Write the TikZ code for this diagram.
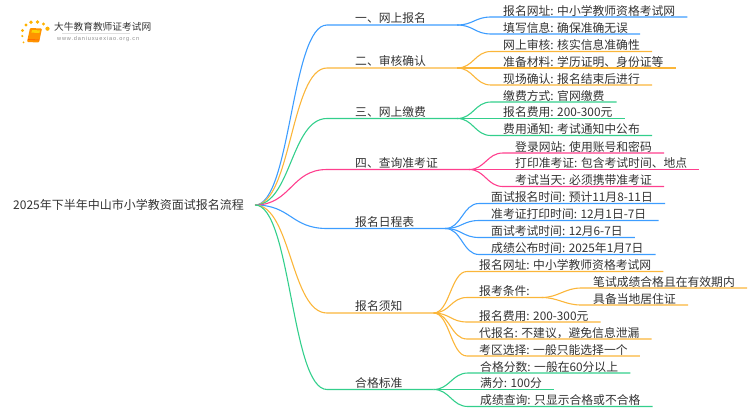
\documentclass[tikz,border=0pt]{standalone}
\usepackage{fontspec}
\setmainfont{Noto Sans CJK SC}
\newfontfamily\logofont[LetterSpace=15]{Liberation Sans}
\definecolor{lineblue}{HTML}{3D9DFF}
\definecolor{lineorange}{HTML}{FBB63A}
\definecolor{linegreen}{HTML}{33CF8C}
\definecolor{linepink}{HTML}{FF3F8E}
\definecolor{inktext}{HTML}{333333}
\tikzset{
  rootlabel/.style={anchor=west, inner xsep=11pt, inner ysep=0pt, text=inktext, font=\fontsize{12}{14}\selectfont},
  branchlabel/.style={anchor=south west, inner xsep=28pt, inner ysep=0pt, text depth=2pt, text=inktext,
    font=\fontsize{11.8}{14}\selectfont, execute at end node={\hspace{3pt}}},
  leaflabel/.style={anchor=south west, inner xsep=12pt, inner ysep=0pt, text depth=1.6pt, text=inktext,
    font=\fontsize{11.8}{14}\selectfont},
  limb/.style={to path={.. controls +(36,0) and +(-36,0) .. (\tikztotarget)}},
  twig/.style={to path={.. controls +(16,0) and +(-16,0) .. (\tikztotarget)}},
  wire/.style={line width=1.1pt},
  sundot/.style={fill=orange!60!yellow, draw=none},
}
\begin{document}
\begin{tikzpicture}[x=1pt, y=-1pt]
  \useasboundingbox (0,0) rectangle (750,410);
  % logo
  \foreach \dx/\dy/\dr in {22.5/30.5/1.6, 26/25/1.7, 31/22.3/1.9, 37.5/22/1.9, 43.5/24/1.7, 47.5/28.7/2.1, 22.3/36/1.2, 23.5/42.3/1}
    \fill[sundot] (\dx,\dy) circle (\dr);
  \fill[orange!85!yellow, rounded corners=1pt] (30,28) -- (42,28.5) -- (39,42.5) -- (27,42) -- cycle;
  \fill[yellow!70!orange] (32,30) -- (40,30.4) -- (39.4,33) -- (31.4,32.6) -- cycle;
  \draw[orange!70!red, line width=.6pt] (28,39.5) -- (39.5,40);
  \node[anchor=west, inner sep=0pt, text=inktext, font=\fontsize{9.7}{11}\selectfont] (logotitle) at (54,26.5) {大牛教育教师证考试网};
  \node[anchor=west, inner sep=0pt, text=black!45, font=\logofont\fontsize{5.6}{7}\selectfont] (logourl) at (57,39) {www.daniuxuexiao.org.cn};
  \draw[black!12, line width=.7pt] (62,33.5) -- (130,33.5);

  \node[rootlabel] (root) at (2,205) {2025年下半年中山市小学教资面试报名流程};

  % first level
  \foreach \name/\y/\txt in {b1/25/一、网上报名, b2/68/二、审核确认, b3/118.5/三、网上缴费, b4/169.5/四、查询准考证,
      b5/228.5/报名日程表, b6/313/报名须知, b7/389.5/合格标准}
    \node[branchlabel] (\name) at (327,\y) {\txt};

  % second level
  \foreach \name/\x/\y/\txt in {
      l11/491/17/报名网址: 中小学教师资格考试网, l12/491/34/填写信息: 确保准确无误,
      l21/491/51.5/网上审核: 核实信息准确性, l22/491/68/准备材料: 学历证明、身份证等, l23/491/85/现场确认: 报名结束后进行,
      l31/491/102/缴费方式: 官网缴费, l32/491/118.5/报名费用: 200-300元, l33/491/135.5/费用通知: 考试通知中公布,
      l41/503/153/登录网站: 使用账号和密码, l42/503/169.5/打印准考证: 包含考试时间、地点, l43/503/186.5/考试当天: 必须携带准考证,
      l51/479/203.5/面试报名时间: 预计11月8-11日, l52/479/220.5/准考证打印时间: 12月1日-7日,
      l53/479/237.5/面试考试时间: 12月6-7日, l54/479/254.5/成绩公布时间: 2025年1月7日,
      l61/467/271.5/报名网址: 中小学教师资格考试网, l62/467/297.5/报考条件:\hspace{6pt}, l63/467/322/报名费用: 200-300元,
      l64/467/339/代报名: 不建议，避免信息泄漏, l65/467/356/考区选择: 一般只能选择一个,
      l71/468/373/合格分数: 一般在60分以上, l72/468/389.5/满分: 100分, l73/468/406.5/成绩查询: 只显示合格或不合格,
      m1/581/288/笔试成绩合格且在有效期内, m2/581/305/具备当地居住证}
    \node[leaflabel] (\name) at (\x,\y) {\txt};

  % connectors
  \foreach \name/\col in {b1/lineblue, b2/lineorange, b3/linegreen, b4/linepink, b5/lineblue, b6/lineorange, b7/linegreen}
    \draw[wire, \col] (root.east) to[limb] (\name.south west) -- (\name.south east);
  \foreach \from/\name/\col in {b1/l11/lineblue, b1/l12/lineblue,
      b2/l21/lineorange, b2/l22/lineorange, b2/l23/lineorange,
      b3/l31/linegreen, b3/l32/linegreen, b3/l33/linegreen,
      b4/l41/linepink, b4/l42/linepink, b4/l43/linepink,
      b5/l51/lineblue, b5/l52/lineblue, b5/l53/lineblue, b5/l54/lineblue,
      b6/l61/lineorange, b6/l62/lineorange, b6/l63/lineorange, b6/l64/lineorange, b6/l65/lineorange,
      b7/l71/linegreen, b7/l72/linegreen, b7/l73/linegreen,
      l62/m1/lineorange, l62/m2/lineorange}
    \draw[wire, \col] (\from.south east) to[twig] (\name.south west) -- (\name.south east);
\end{tikzpicture}
\end{document}
